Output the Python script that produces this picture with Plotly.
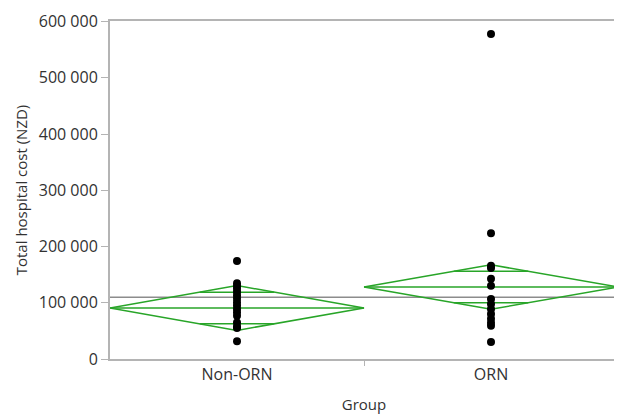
import math
import plotly.graph_objects as go

# ---- data ----
groups = ["Non-ORN", "ORN"]
non_orn_costs = [174400, 134900, 130000, 125000, 119000, 113000, 107000, 101000,
                 95000, 89000, 83000, 77000, 65000, 58000, 55000, 31400]
orn_costs = [577900, 223800, 165700, 162000, 142500, 130300, 106900, 97700,
             89000, 80200, 71500, 64500, 59300, 30200]
group_means = [90700, 128000]
group_ci_half = [39800, 39500]
grand_mean = 110000
y_ticks = [0, 100000, 200000, 300000, 400000, 500000, 600000]

GREEN = "rgb(40,165,40)"
FRAME = "rgb(180,180,180)"

fig = go.Figure()

values = [non_orn_costs, orn_costs]

# grand mean line across the plot
fig.add_trace(go.Scatter(x=[-0.5, len(groups) - 0.5], y=[grand_mean, grand_mean],
                         mode="lines", line=dict(color="rgb(140,140,140)", width=1.5),
                         hoverinfo="skip", showlegend=False))

for i, g in enumerate(groups):
    m = group_means[i]
    c = group_ci_half[i]
    # diamond
    fig.add_trace(go.Scatter(x=[i - 0.5, i, i + 0.5, i, i - 0.5],
                             y=[m, m + c, m, m - c, m],
                             mode="lines", line=dict(color=GREEN, width=1.5),
                             hoverinfo="skip", showlegend=False))
    # mean line
    fig.add_trace(go.Scatter(x=[i - 0.5, i + 0.5], y=[m, m],
                             mode="lines", line=dict(color=GREEN, width=1.5),
                             hoverinfo="skip", showlegend=False))
    # overlap marks
    o = c / math.sqrt(2)
    hw = 0.5 * (1 - 1 / math.sqrt(2))
    for yy in (m + o, m - o):
        fig.add_trace(go.Scatter(x=[i - hw, i + hw], y=[yy, yy],
                                 mode="lines", line=dict(color=GREEN, width=1.5),
                                 hoverinfo="skip", showlegend=False))
    # points
    fig.add_trace(go.Scatter(x=[i] * len(values[i]), y=values[i], mode="markers",
                             marker=dict(color="black", size=8),
                             showlegend=False))

# secondary x axis just for the divider tick between groups
fig.add_trace(go.Scatter(x=[0.5], y=[None], xaxis="x2", showlegend=False, hoverinfo="skip"))

font = dict(family="Open Sans, Noto Sans, sans-serif", size=16, color="rgb(50,50,50)")
title_font = dict(family="Open Sans, Noto Sans, sans-serif", size=15, color="rgb(50,50,50)")

fig.update_layout(
    width=614, height=406,
    margin=dict(l=102, r=2, t=7, b=55),
    plot_bgcolor="white", paper_bgcolor="white",
    separators=". ",
    font=font,
    xaxis=dict(range=[-0.5, len(groups) - 0.5], tickvals=list(range(len(groups))),
               ticktext=groups, ticks="", showgrid=False, zeroline=False,
               showline=True, linecolor=FRAME, linewidth=2, mirror=True,
               title=dict(text="Group", standoff=16, font=title_font), tickfont=font),
    xaxis2=dict(range=[-0.5, len(groups) - 0.5], overlaying="x", side="bottom",
                tickvals=[i + 0.5 for i in range(len(groups) - 1)],
                ticks="outside", ticklen=6, tickcolor=FRAME, tickwidth=1,
                showticklabels=False, showgrid=False, zeroline=False, showline=False),
    yaxis=dict(range=[0, 601000], tickvals=y_ticks, tickformat=",d",
               ticks="outside", ticklen=7, tickcolor=FRAME, tickwidth=1,
               ticklabeloverflow="allow",
               showgrid=False, zeroline=False,
               showline=True, linecolor=FRAME, linewidth=2, mirror=True,
               title=dict(text="Total hospital cost (NZD)", standoff=8, font=title_font),
               tickfont=font),
)

fig.write_html("out.html")
